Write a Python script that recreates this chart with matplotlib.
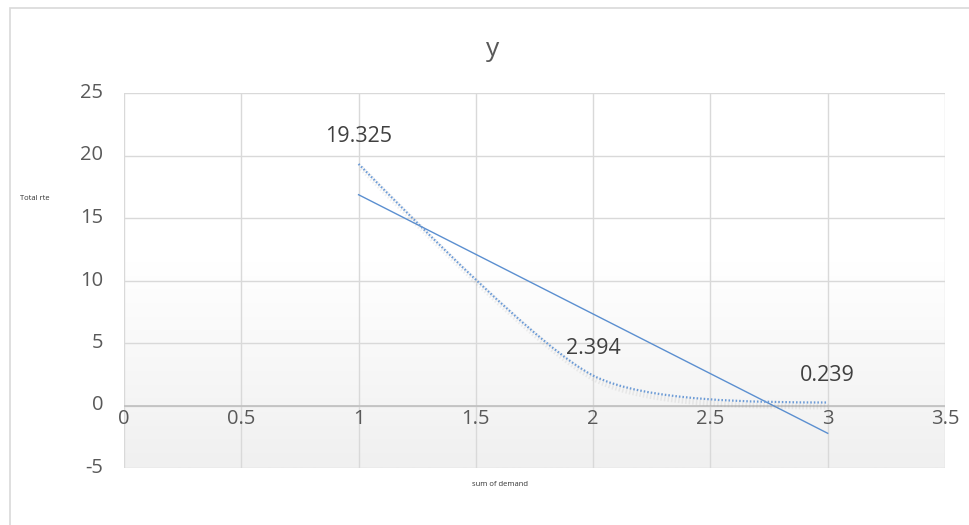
import numpy as np
import matplotlib
matplotlib.use("Agg")
import matplotlib.pyplot as plt
from matplotlib.path import Path
from matplotlib.patches import PathPatch, Rectangle
import matplotlib.patheffects as pe

# data points
demand = [1, 2, 3]
total_rte = [19.325, 2.394, 0.239]
point_labels = ["19.325", "2.394", "0.239"]

x_ticks = [0, 0.5, 1, 1.5, 2, 2.5, 3, 3.5]
y_ticks = [-5, 0, 5, 10, 15, 20, 25]

LINE_BLUE = "#5b8fd0"
GRID = "#d9d9d9"
TEXT = "#595959"


def smooth_path(xs, ys, tension=0.11):
    # cubic bezier through the points, spreadsheet-style smoothing
    pts = np.column_stack([xs, ys]).astype(float)
    n = len(pts)
    tang = np.zeros_like(pts)
    for i in range(1, n - 1):
        tang[i] = tension * (pts[i + 1] - pts[i - 1])
    verts = [pts[0]]
    codes = [Path.MOVETO]
    for i in range(n - 1):
        p0, p1 = pts[i], pts[i + 1]
        if i == 0:
            c1 = p1 - tang[i + 1]
            c0 = p0 + (c1 - p0) / 3
        elif i == n - 2:
            c0 = p0 + tang[i]
            c1 = p1 + (c0 - p1) * 0.4
        else:
            c0 = p0 + tang[i]
            c1 = p1 - tang[i + 1]
        verts += [c0, c1, p1]
        codes += [Path.CURVE4] * 3
    return Path(verts, codes)


fig = plt.figure(figsize=(9.7, 5.25), dpi=100)
fig.patch.set_facecolor("white")

# chart frame
fig.add_artist(Rectangle((10 / 970, -0.05), 1.2, 1 - 8 / 525 + 0.05,
                         transform=fig.transFigure, fill=False,
                         edgecolor="#d9d9d9", linewidth=1.2))

ax = fig.add_axes([124 / 970, 1 - 468 / 525, (945 - 124) / 970, (468 - 93) / 525])
ax.set_xlim(0, 3.5)
ax.set_ylim(-5, 25)

# soft gradient fill of the plot area
grad = np.linspace(0, 1, 256).reshape(-1, 1)
grad = np.clip((grad - 0.45) / 0.55, 0, 1)
ax.imshow(grad, extent=[0, 3.5, -5, 25], aspect="auto", origin="upper",
          cmap=matplotlib.colors.LinearSegmentedColormap.from_list(
              "bg", ["#ffffff", "#f0f0f0"]), zorder=0)

for xv in x_ticks:
    ax.axvline(xv, color=GRID, linewidth=1, zorder=1)
for yv in y_ticks:
    ax.axhline(yv, color=GRID, linewidth=1, zorder=1)
ax.axhline(0, color="#bfbfbf", linewidth=1.2, zorder=1)

for s in ax.spines.values():
    s.set_visible(False)
ax.set_xticks([])
ax.set_yticks([])

# tick labels: x labels sit along the zero line
for xv in x_ticks:
    ax.text(xv, -0.3, f"{xv:g}", ha="center", va="top", fontsize=14.5,
            color=TEXT, family="Open Sans", zorder=5)
for yv in y_ticks:
    ax.annotate(f"{yv:g}", xy=(0, yv), xycoords="data", xytext=(-15, 0),
                textcoords="offset points", ha="right", va="center",
                fontsize=14.5, color=TEXT, family="Open Sans", annotation_clip=False)

# linear trendline
slope, intercept = np.polyfit(demand, total_rte, 1)
tx = np.array([demand[0], demand[-1]])
ax.plot(tx, slope * tx + intercept, color=LINE_BLUE, linewidth=1.0, zorder=3)

# smoothed series
curve = PathPatch(smooth_path(demand, total_rte), fill=False, edgecolor="#6c9bd6",
                  linewidth=1.6, linestyle=(0, (0.7, 0.9)), zorder=4,
                  path_effects=[pe.SimpleLineShadow(offset=(2, -3), shadow_color="gray",
                                                    alpha=0.12, linewidth=4),
                                pe.Normal()])
ax.add_patch(curve)

for xv, yv, lab in zip(demand, total_rte, point_labels):
    ax.annotate(lab, xy=(xv, yv), xytext=(0, 12), textcoords="offset points",
                ha="center", va="bottom", fontsize=15.5, color="#404040",
                family="Open Sans", zorder=5)

fig.text(493 / 970, 1 - 50 / 525, "y", ha="center", va="center", fontsize=19,
         color=TEXT, family="Open Sans")
fig.text(20 / 970, 1 - 198 / 525, "Total rte", ha="left", va="center", fontsize=5.5,
         color="#333333", family="Open Sans")
fig.text(500 / 970, 1 - 485 / 525, "sum of demand", ha="center", va="center",
         fontsize=5.5, color="#333333", family="Open Sans")

fig.savefig("out.png", dpi=100, facecolor="white")
